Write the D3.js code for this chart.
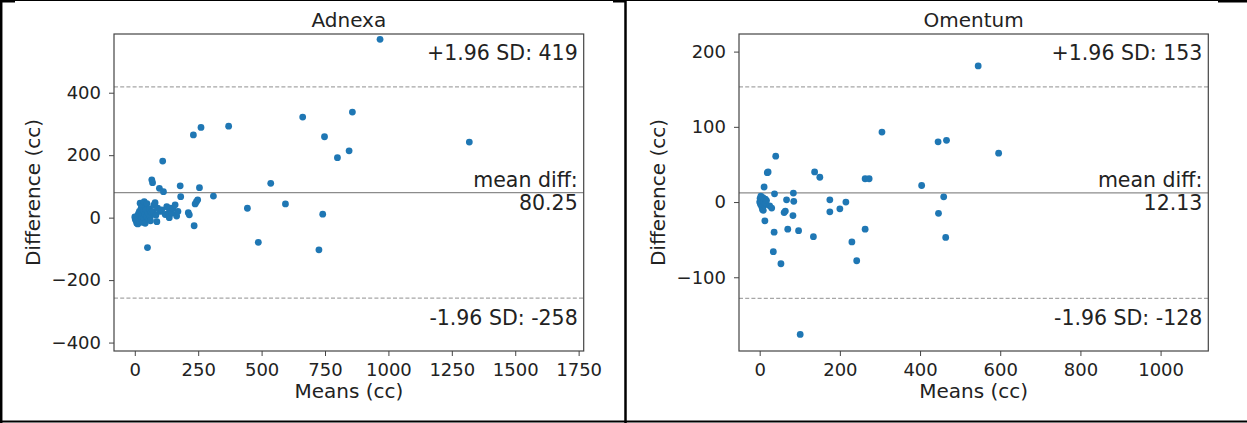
<!DOCTYPE html>
<html>
<head>
<meta charset="utf-8">
<script src="https://cdn.jsdelivr.net/npm/d3@7"></script>
<style>
body { margin: 0; background: #fff; }
text { font-family: "DejaVu Sans", sans-serif; fill: #222; }
</style>
</head>
<body>
<script>

// Bland-Altman data (means vs difference, cc)
var adnexaMeans = [0, 2, 5, 8, 10, 12, 14, 15, 18, 20, 21, 22, 25, 26, 28, 30, 32, 34, 35, 37,
	40, 41, 42, 45, 47, 48, 50, 52, 55, 58, 60, 62, 65, 67, 70, 73, 75, 80, 83, 87,
	90, 97, 100, 106, 110, 113, 120, 126, 132, 136, 139, 146, 150, 159, 165, 170, 179, 181, 211, 215,
	231, 234, 238, 243, 248, 255, 261, 310, 370, 444, 487, 536, 594, 662, 726, 741, 748, 799, 845, 858,
	967, 1319];
var adnexaDiffs = [2, -5, -10, -18, 5, -20, 12, -8, 20, -12, 46, 8, 30, -3, 15, -15, 40, 22, 0, 51,
	10, -18, 35, 25, 5, 45, -96, 15, -5, 28, 3, -10, 18, 121, 112, 19, 40, 48, 8, -13,
	30, 94, 20, 25, 181, 83, 10, 35, 14, 0, 30, 14, 30, 41, 5, 20, 102, 67, 16, 9,
	265, -26, 44, 51, 57, 96, 289, 69, 293, 30, -79, 110, 44, 322, -103, 11, 259, 192, 214, 338,
	571, 242];

var omentumMeans = [0, 1, 2, 3, 4, 5, 6, 7, 8, 9, 10, 11, 12, 13, 14, 15, 17, 19, 21, 25,
	30, 34, 36, 37, 40, 53, 61, 64, 67, 70, 83, 84, 85, 97, 101, 134, 137, 150, 175, 175,
	200, 215, 230, 242, 263, 263, 273, 305, 404, 445, 446, 459, 464, 466, 545, 596];
var omentumDiffs = [0, 5, -3, 8, 2, -6, 3, -10, 6, -11, 0, 20, -4, -25, 4, -2, 2, 39, 40, -5,
	-8, -66, -40, 11, 61, -82, -14, -12, 3, -36, -18, 12, 1, -38, -176, -46, 40, 33, 3, -13,
	-9, 0, -53, -78, -36, 31, 31, 93, 22, 80, -15, 7, -47, 82, 181, 65];

// limits of agreement: [upper, mean, lower]
var adnexaStats = [419, 80.25, -258];
var omentumStats = [153, 12.13, -128];
var adnexaStatLabels = ["+1.96 SD: 419", "80.25", "-1.96 SD: -258"];
var omentumStatLabels = ["+1.96 SD: 153", "12.13", "-1.96 SD: -128"];

// tick values
var adnexaXTicks = [0, 250, 500, 750, 1000, 1250, 1500, 1750];
var adnexaYTicks = [-400, -200, 0, 200, 400];
var omentumXTicks = [0, 200, 400, 600, 800, 1000];
var omentumYTicks = [-100, 0, 100, 200];

var width = 1247;
var height = 423;

var svg = d3.select("body")
	.append("svg")
	.attr("width", width)
	.attr("height", height);

// outer table-like frame
svg.append("line").attr("x1", 0).attr("x2", width).attr("y1", 0.5).attr("y2", 0.5)
	.style("stroke", "#000").style("stroke-width", 1);
svg.append("line").attr("x1", 1.2).attr("x2", 1.2).attr("y1", 0).attr("y2", height)
	.style("stroke", "#000").style("stroke-width", 2.5);
svg.append("line").attr("x1", 0).attr("x2", width).attr("y1", 421.5).attr("y2", 421.5)
	.style("stroke", "#000").style("stroke-width", 2);
svg.append("line").attr("x1", 625.5).attr("x2", 625.5).attr("y1", 0).attr("y2", height)
	.style("stroke", "#000").style("stroke-width", 2.5);
[[0, 15], [613, 626], [1218, 1247]].forEach(function(seg) {
	svg.append("rect").attr("x", seg[0]).attr("y", 0)
		.attr("width", seg[1] - seg[0]).attr("height", 2.5)
		.style("fill", "#000");
});

var tickFmt = d3.format("d");   // no thousands comma, keeps the unicode minus

function drawPanel(opts) {
	var left = opts.left, right = opts.right, top = 34, bottom = 351;

	var x = d3.scaleLinear().domain(opts.xDomain).range([left, right]);
	var y = d3.scaleLinear().domain(opts.yDomain).range([bottom, top]);

	var g = svg.append("g");

	// limit lines
	g.append("line")
		.attr("x1", left).attr("x2", right)
		.attr("y1", y(opts.stats[1])).attr("y2", y(opts.stats[1]))
		.style("stroke", "#8c8c8c").style("stroke-width", 1.3);
	[opts.stats[0], opts.stats[2]].forEach(function(v) {
		g.append("line")
			.attr("x1", left).attr("x2", right)
			.attr("y1", y(v)).attr("y2", y(v))
			.style("stroke", "#a6a6a6").style("stroke-width", 1.2)
			.style("stroke-dasharray", "4,2.2");
	});

	// points
	g.selectAll("circle")
		.data(opts.means)
		.enter()
		.append("circle")
		.attr("cx", function(d) { return x(d); })
		.attr("cy", function(d, i) { return y(opts.diffs[i]); })
		.attr("r", 3.4)
		.style("fill", "#1f77b4");

	// axes
	var xAxis = g.append("g")
		.attr("transform", "translate(0," + bottom + ")")
		.call(d3.axisBottom(x).tickValues(opts.xTicks).tickFormat(tickFmt).tickSize(5).tickPadding(7));
	var yAxis = g.append("g")
		.attr("transform", "translate(" + left + ",0)")
		.call(d3.axisLeft(y).tickValues(opts.yTicks).tickFormat(tickFmt).tickSize(5).tickPadding(8));
	[xAxis, yAxis].forEach(function(a) {
		a.select(".domain").remove();
		a.selectAll("line").style("stroke", "#444").style("stroke-width", 1);
		a.selectAll("text").style("font-size", "18px").style("fill", "#222")
			.style("font-family", "DejaVu Sans");
	});

	// frame
	g.append("rect")
		.attr("x", left).attr("y", top)
		.attr("width", right - left).attr("height", bottom - top)
		.style("fill", "none")
		.style("stroke", "#444")
		.style("stroke-width", 1.2);

	// title and labels
	g.append("text")
		.attr("x", (left + right) / 2).attr("y", 27)
		.attr("text-anchor", "middle")
		.style("font-size", "20px")
		.text(opts.title);
	g.append("text")
		.attr("x", (left + right) / 2).attr("y", 398)
		.attr("text-anchor", "middle")
		.style("font-size", "20px")
		.text("Means (cc)");
	g.append("text")
		.attr("transform", "translate(" + (left - 74) + "," + ((top + bottom) / 2) + ") rotate(-90)")
		.attr("text-anchor", "middle")
		.style("font-size", "20px")
		.text("Difference (cc)");

	// annotations
	var tx = right - 6;
	g.append("text").attr("x", tx).attr("y", y(opts.stats[0]) - 27)
		.attr("text-anchor", "end").style("font-size", "20.5px")
		.text(opts.labels[0]);
	g.append("text").attr("x", tx).attr("y", y(opts.stats[1]) - 6)
		.attr("text-anchor", "end").style("font-size", "20.5px")
		.text("mean diff:");
	g.append("text").attr("x", tx).attr("y", y(opts.stats[1]) + 17.5)
		.attr("text-anchor", "end").style("font-size", "20.5px")
		.text(opts.labels[1]);
	g.append("text").attr("x", tx).attr("y", y(opts.stats[2]) + 26.5)
		.attr("text-anchor", "end").style("font-size", "20.5px")
		.text(opts.labels[2]);
}

drawPanel({
	title: "Adnexa",
	left: 114, right: 583.7,
	xDomain: [-82, 1770], yDomain: [-427, 588],
	means: adnexaMeans, diffs: adnexaDiffs,
	stats: adnexaStats, labels: adnexaStatLabels,
	xTicks: adnexaXTicks, yTicks: adnexaYTicks
});

drawPanel({
	title: "Omentum",
	left: 739, right: 1208.3,
	xDomain: [-51.6, 1119], yDomain: [-198, 223.4],
	means: omentumMeans, diffs: omentumDiffs,
	stats: omentumStats, labels: omentumStatLabels,
	xTicks: omentumXTicks, yTicks: omentumYTicks
});

</script>
</body>
</html>
